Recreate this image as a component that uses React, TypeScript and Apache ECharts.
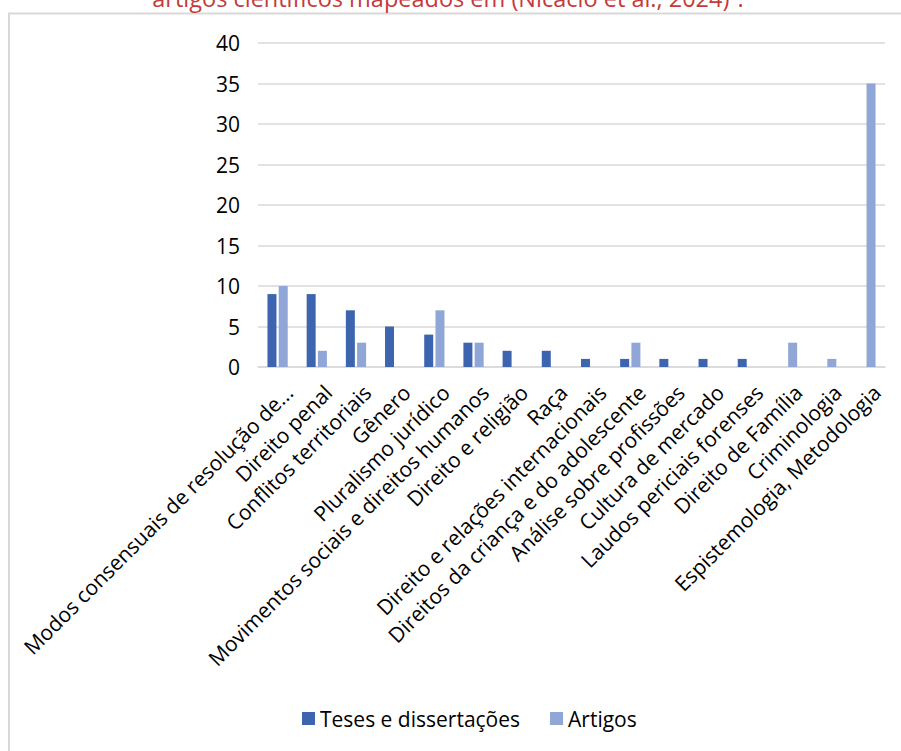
import React, { useEffect, useRef } from "react";
import * as echarts from "echarts";

const categories = [
  "Modos consensuais de resolução de...",
  "Direito penal",
  "Conflitos territoriais",
  "Gênero",
  "Pluralismo jurídico",
  "Movimentos sociais e direitos humanos",
  "Direito e religião",
  "Raça",
  "Direito e relações internacionais",
  "Direitos da criança e do adolescente",
  "Análise sobre profissões",
  "Cultura de mercado",
  "Laudos periciais forenses",
  "Direito de Família",
  "Criminologia",
  "Espistemologia, Metodologia",
];
const teses = [9, 9, 7, 5, 4, 3, 2, 2, 1, 1, 1, 1, 1, 0, 0, 0];
const artigos = [10, 2, 3, 0, 7, 3, 0, 0, 0, 3, 0, 0, 0, 3, 1, 35];
const yTicks = { min: 0, max: 40, interval: 5 };
const titleText = "artigos científicos mapeados em (Nicácio et al., 2024)¹.";

const FONT = "'Open Sans', sans-serif";

export default function App() {
  const ref = useRef<HTMLDivElement>(null);
  useEffect(() => {
    if (!ref.current) return;
    const chart = echarts.init(ref.current, undefined, { renderer: "svg" });
    chart.setOption({
      animation: false,
      backgroundColor: "#ffffff",
      textStyle: { fontFamily: FONT },
      graphic: [
        {
          type: "rect",
          shape: { x: 9, y: 13.5, width: 1000, height: 1000 },
          style: { fill: "none", stroke: "#d9d9d9", lineWidth: 2 },
          z: 0,
        },
        {
          type: "text",
          x: 448,
          y: 10,
          style: {
            text: titleText,
            fill: "#c43a3a",
            font: `23.5px ${FONT}`,
            textAlign: "center",
            textVerticalAlign: "bottom",
          },
        },
      ],
      grid: { left: 258, right: 16, top: 43, bottom: 384, containLabel: false },
      legend: {
        top: 703,
        left: 297,
        itemWidth: 13,
        itemHeight: 13,
        itemGap: 30,
        icon: "rect",
        textStyle: { fontSize: 21, color: "#000", fontFamily: FONT },
        data: ["Teses e dissertações", "Artigos"],
      },
      xAxis: {
        type: "category",
        data: categories,
        axisLine: { show: true, lineStyle: { color: "#d9d9d9", width: 1.5 } },
        axisTick: { show: false },
        axisLabel: {
          interval: 0,
          rotate: 45,
          margin: 33,
          padding: [0, -16, 0, 0],
          fontSize: 21,
          color: "#000",
          fontFamily: FONT,
        },
      },
      yAxis: {
        type: "value",
        min: yTicks.min,
        max: yTicks.max,
        interval: yTicks.interval,
        axisLine: { show: false },
        axisTick: { show: false },
        splitLine: { lineStyle: { color: "#d9d9d9", width: 1.5 } },
        axisLabel: { margin: 18, fontSize: 21, color: "#000", fontFamily: FONT },
      },
      series: [
        {
          name: "Teses e dissertações",
          type: "bar",
          data: teses,
          barWidth: 9,
          barGap: "25%",
          itemStyle: { color: "#3d64ae" },
        },
        {
          name: "Artigos",
          type: "bar",
          data: artigos,
          barWidth: 9,
          itemStyle: { color: "#8fa6d6" },
        },
      ],
    });
    return () => chart.dispose();
  }, []);
  return (
    <div
      ref={ref}
      style={{ position: "fixed", left: 0, top: 0, width: 901, height: 751 }}
    />
  );
}
